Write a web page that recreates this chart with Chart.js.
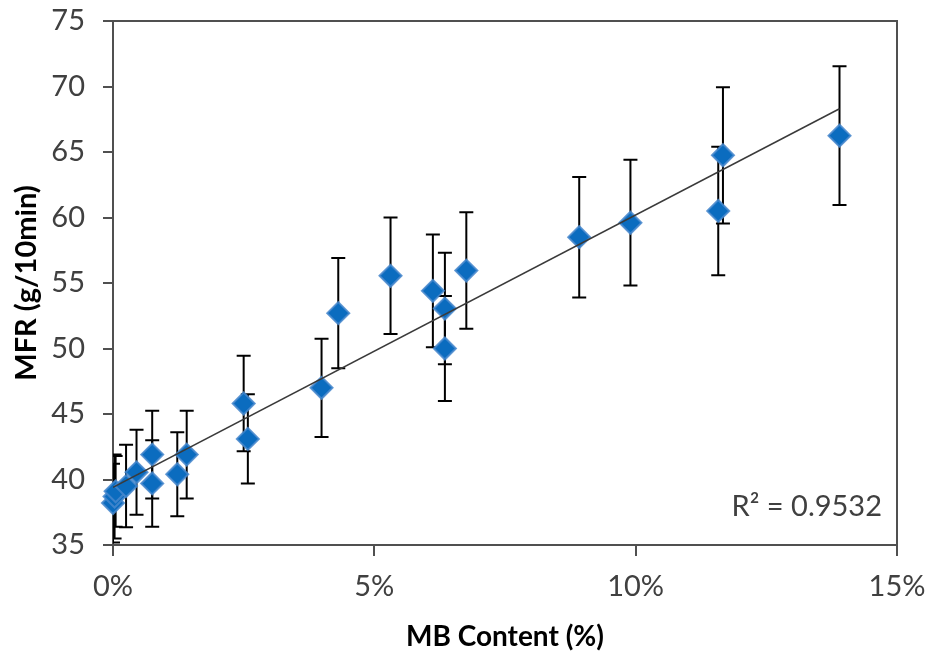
<!DOCTYPE html>
<html>
<head>
<meta charset="utf-8">
<script src="https://cdn.jsdelivr.net/npm/chart.js@4.4.1/dist/chart.umd.min.js"></script>
<style>
  body { margin: 0; background: #fff; }
  canvas { display: block; }
</style>
</head>
<body>
<canvas id="myChart" width="927" height="656"></canvas>
<script>
// MB content (%) of each sample, MFR (g/10min) and the error bar size
const mbContent = [0.00, 0.03, 0.05, 0.25, 0.45, 0.75, 0.75, 1.23, 1.41, 2.50, 2.58, 3.99, 4.31, 5.31, 6.12, 6.35, 6.35, 6.76, 8.92, 9.90, 11.58, 11.67, 13.90];
const mfr       = [38.2, 38.7, 39.1, 39.5, 40.55, 41.9, 39.7, 40.4, 41.9, 45.8, 43.1, 47.0, 52.7, 55.55, 54.4, 53.05, 50.0, 55.95, 58.5, 59.6, 60.5, 64.75, 66.25];
const mfrErr    = [3.0, 3.2, 2.7, 3.15, 3.25, 3.35, 3.3, 3.2, 3.35, 3.65, 3.4, 3.75, 4.2, 4.45, 4.3, 4.25, 4.0, 4.45, 4.6, 4.8, 4.9, 5.2, 5.3];

// linear trendline
const trendX = [0, 13.9];
const trendY = [39.4, 68.3];
const rSquared = '0.9532';

// axis ticks
const xTicks = [0, 5, 10, 15];
const yTicks = [35, 40, 45, 50, 55, 60, 65, 70, 75];

const axisColor = '#505050';
const textColor = '#404040';

const points = mbContent.map((v, i) => ({ x: v, y: mfr[i] }));
const trend = trendX.map((v, i) => ({ x: v, y: trendY[i] }));

// error bars go under the markers
const errorBars = {
  id: 'errorBars',
  beforeDatasetsDraw(chart) {
    const ctx = chart.ctx, sx = chart.scales.x, sy = chart.scales.y, a = chart.chartArea;
    ctx.save();
    ctx.beginPath();
    ctx.rect(a.left, a.top, a.right - a.left, a.bottom - a.top);
    ctx.clip();
    ctx.strokeStyle = '#000';
    ctx.lineWidth = 2;
    mbContent.forEach((v, i) => {
      const px = sx.getPixelForValue(v);
      const top = sy.getPixelForValue(mfr[i] + mfrErr[i]);
      const bot = sy.getPixelForValue(mfr[i] - mfrErr[i]);
      ctx.beginPath();
      ctx.moveTo(px, top); ctx.lineTo(px, bot);
      ctx.moveTo(px - 7, top); ctx.lineTo(px + 7, top);
      ctx.moveTo(px - 7, bot); ctx.lineTo(px + 7, bot);
      ctx.stroke();
    });
    ctx.restore();
  }
};

// box round the plot, short outside tick marks and the R² label
const frame = {
  id: 'frame',
  beforeDatasetsDraw(chart) {
    const ctx = chart.ctx, a = chart.chartArea, sx = chart.scales.x, sy = chart.scales.y;
    ctx.save();
    ctx.strokeStyle = axisColor;
    ctx.lineWidth = 2;
    ctx.strokeRect(a.left, a.top, a.right - a.left, a.bottom - a.top);
    ctx.beginPath();
    yTicks.forEach((v) => {
      const py = Math.round(sy.getPixelForValue(v));
      ctx.moveTo(a.left - 10, py); ctx.lineTo(a.left, py);
    });
    xTicks.forEach((v) => {
      const px = Math.round(sx.getPixelForValue(v));
      ctx.moveTo(px, a.bottom); ctx.lineTo(px, a.bottom + 11);
    });
    ctx.stroke();
    ctx.fillStyle = textColor;
    ctx.font = '29px Lato';
    ctx.textAlign = 'right';
    ctx.textBaseline = 'middle';
    ctx.fillText('R² = ' + rSquared, a.right - 15, a.bottom - 38);
    ctx.restore();
  }
};

var ctx = document.getElementById('myChart').getContext('2d');
var chart = new Chart(ctx, {
  type: 'scatter',
  data: {
    datasets: [{
      type: 'line',
      data: trend,
      borderColor: '#3a3a3a',
      borderWidth: 1.5,
      pointRadius: 0,
      fill: false,
      order: 0
    }, {
      data: points,
      pointStyle: 'rectRot',
      pointRadius: 11,
      pointHoverRadius: 11,
      backgroundColor: '#0b6cbf',
      borderColor: 'rgba(70,135,205,0.85)',
      borderWidth: 2,
      clip: false,
      order: 1
    }]
  },
  options: {
    responsive: false,
    animation: false,
    layout: { padding: { top: 21, right: 30, left: 0, bottom: 0 } },
    plugins: { legend: { display: false }, tooltip: { enabled: false } },
    scales: {
      x: {
        type: 'linear',
        min: 0,
        max: 15,
        afterFit: (s) => { s.height = 111; },
        afterBuildTicks: (s) => { s.ticks = xTicks.map((v) => ({ value: v })); },
        ticks: {
          padding: 0,
          color: textColor,
          font: { family: 'Lato', size: 29 },
          callback: (v) => v + '%'
        },
        grid: { drawOnChartArea: false, tickLength: 24, tickColor: 'rgba(0,0,0,0)' },
        border: { display: false },
        title: {
          display: true,
          text: 'MB Content (%)',
          color: '#000',
          font: { family: 'Lato', size: 28, weight: 'bold' },
          padding: { top: 0, bottom: 2 }
        }
      },
      y: {
        min: 35,
        max: 75,
        afterFit: (s) => { s.width = 113; },
        afterBuildTicks: (s) => { s.ticks = yTicks.map((v) => ({ value: v })); },
        ticks: {
          padding: 0,
          color: textColor,
          font: { family: 'Lato', size: 29 }
        },
        grid: { drawOnChartArea: false, tickLength: 28, tickColor: 'rgba(0,0,0,0)' },
        border: { display: false },
        title: {
          display: true,
          text: 'MFR (g/10min)',
          color: '#000',
          font: { family: 'Lato', size: 29, weight: 'bold' },
          padding: { top: 9, bottom: 0 }
        }
      }
    }
  },
  plugins: [frame, errorBars]
});
</script>
</body>
</html>
